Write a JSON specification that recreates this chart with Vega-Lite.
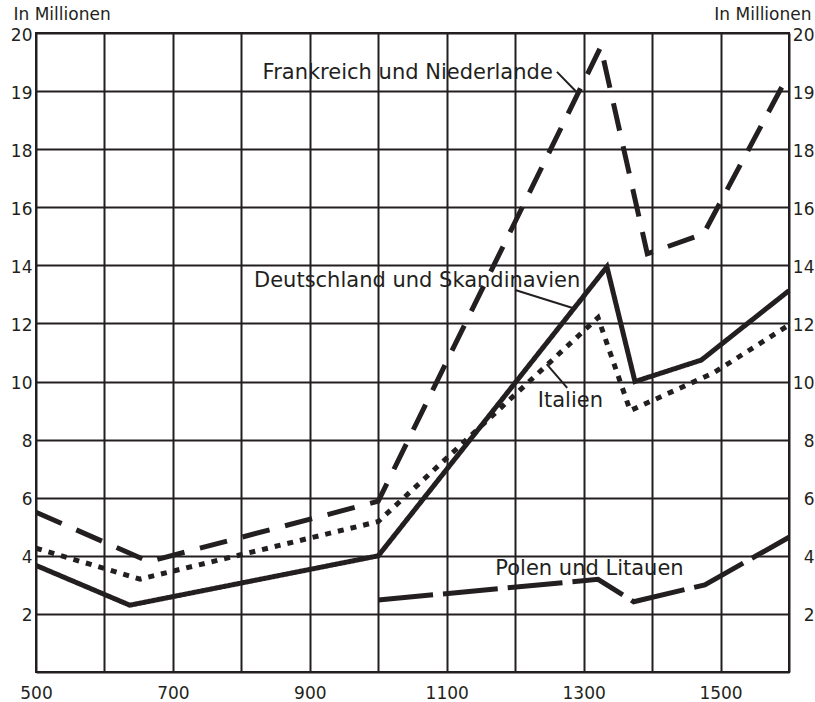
{
  "$schema": "https://vega.github.io/schema/vega-lite/v6.json",
  "autosize": {"type": "none"},
  "width": 753,
  "height": 639,
  "padding": {"left": 36, "top": 33, "right": 26, "bottom": 30},
  "background": "white",
  "config": {
    "view": {"stroke": "#231f20", "strokeWidth": 2},
    "font": "DejaVu Sans",
    "axis": {
      "labelFont": "DejaVu Sans",
      "titleFont": "DejaVu Sans",
      "labelColor": "#231f20",
      "titleColor": "#231f20",
      "gridColor": "#231f20",
      "gridOpacity": 1,
      "gridWidth": 2,
      "ticks": false,
      "tickSize": 0,
      "domain": false
    }
  },
  "datasets": {
    "series": [
      {"series": "Frankreich und Niederlande", "year": 500, "value": 5.5},
      {"series": "Frankreich und Niederlande", "year": 665, "value": 3.8},
      {"series": "Frankreich und Niederlande", "year": 1000, "value": 5.88},
      {"series": "Frankreich und Niederlande", "year": 1325, "value": 19.76},
      {"series": "Frankreich und Niederlande", "year": 1393, "value": 14.4},
      {"series": "Frankreich und Niederlande", "year": 1475, "value": 15.08},
      {"series": "Frankreich und Niederlande", "year": 1600, "value": 19.3},
      {"series": "Deutschland und Skandinavien", "year": 500, "value": 3.67},
      {"series": "Deutschland und Skandinavien", "year": 637, "value": 2.3},
      {"series": "Deutschland und Skandinavien", "year": 1000, "value": 4.0},
      {"series": "Deutschland und Skandinavien", "year": 1334, "value": 13.95},
      {"series": "Deutschland und Skandinavien", "year": 1375, "value": 10.0},
      {"series": "Deutschland und Skandinavien", "year": 1472, "value": 10.74},
      {"series": "Deutschland und Skandinavien", "year": 1600, "value": 13.13},
      {"series": "Italien", "year": 500, "value": 4.26},
      {"series": "Italien", "year": 652, "value": 3.2},
      {"series": "Italien", "year": 1000, "value": 5.18},
      {"series": "Italien", "year": 1321, "value": 12.2},
      {"series": "Italien", "year": 1368, "value": 9.0},
      {"series": "Italien", "year": 1490, "value": 10.3},
      {"series": "Italien", "year": 1600, "value": 11.95},
      {"series": "Polen und Litauen", "year": 1000, "value": 2.48},
      {"series": "Polen und Litauen", "year": 1321, "value": 3.19},
      {"series": "Polen und Litauen", "year": 1373, "value": 2.42},
      {"series": "Polen und Litauen", "year": 1477, "value": 3.0},
      {"series": "Polen und Litauen", "year": 1600, "value": 4.64}
    ],
    "labels": [
      {"text": "Frankreich und Niederlande", "year": 831, "value": 19.2, "side": "left"},
      {"text": "Deutschland und Skandinavien", "year": 1295, "value": 13.24, "side": "right"},
      {"text": "Italien", "year": 1233, "value": 9.13, "side": "left"},
      {"text": "Polen und Litauen", "year": 1171, "value": 3.34, "side": "left"}
    ],
    "leaders": [
      {"series": "Frankreich und Niederlande", "year": 1261, "value": 19.33, "year2": 1290, "value2": 18.98},
      {"series": "Deutschland und Skandinavien", "year": 1200, "value": 13.15, "year2": 1284, "value2": 12.53},
      {"series": "Italien", "year": 1246, "value": 10.6, "year2": 1276, "value2": 9.78}
    ]
  },
  "layer": [
    {
      "data": {"name": "series"},
      "mark": {"type": "line", "strokeWidth": 5, "color": "#231f20", "strokeJoin": "miter", "strokeCap": "butt"},
      "encoding": {
        "x": {
          "field": "year", "type": "quantitative",
          "scale": {"domain": [500, 1600], "nice": false, "zero": false},
          "axis": {
            "title": null,
            "values": [500, 600, 700, 800, 900, 1000, 1100, 1200, 1300, 1400, 1500, 1600],
            "format": "d",
            "labelExpr": "(datum.value - 500) % 200 == 0 && datum.value < 1600 ? datum.label : ''",
            "labelFontSize": 17,
            "labelBaseline": "alphabetic",
            "labelPadding": 26,
            "labelFlush": false,
            "grid": true
          }
        },
        "y": {
          "field": "value", "type": "quantitative",
          "scale": {"domain": [0, 16, 18, 20], "range": [639, 174.27, 116.18, 0], "nice": false, "zero": false},
          "axis": {
            "orient": "left",
            "title": "In Millionen",
            "titleAngle": 0,
            "titleAlign": "left",
            "titleBaseline": "alphabetic",
            "titleX": -23,
            "titleY": -14,
            "titleFontSize": 17,
            "titleFontWeight": "normal",
            "values": [0, 2, 4, 6, 8, 10, 12, 14, 16, 18, 19, 20],
            "labelExpr": "datum.value == 0 ? '' : datum.label",
            "labelFontSize": 17,
            "labelPadding": 4,
            "labelBaseline": "middle",
            "labelOffset": 2,
            "labelFlush": true,
            "grid": true
          }
        },
        "strokeDash": {
          "field": "series", "type": "nominal",
          "scale": {
            "domain": ["Frankreich und Niederlande", "Deutschland und Skandinavien", "Italien", "Polen und Litauen"],
            "range": [[28, 16], [1, 0], [6, 7], [55, 10]]
          },
          "legend": null
        }
      }
    },
    {
      "data": {"name": "leaders"},
      "mark": {"type": "rule", "strokeWidth": 2, "color": "#231f20"},
      "encoding": {
        "x": {"field": "year", "type": "quantitative"},
        "x2": {"field": "year2"},
        "y": {
          "field": "value", "type": "quantitative",
          "scale": {"domain": [0, 16, 18, 20], "range": [639, 174.27, 116.18, 0], "nice": false, "zero": false},
          "axis": null
        },
        "y2": {"field": "value2"}
      }
    },
    {
      "data": {"name": "labels"},
      "transform": [{"filter": "datum.side == 'left'"}],
      "mark": {"type": "text", "font": "DejaVu Sans", "fontSize": 21, "color": "#231f20", "baseline": "alphabetic", "align": "left"},
      "encoding": {
        "x": {"field": "year", "type": "quantitative"},
        "y": {
          "field": "value", "type": "quantitative",
          "scale": {"domain": [0, 16, 18, 20], "range": [639, 174.27, 116.18, 0], "nice": false, "zero": false},
          "axis": {
            "orient": "right",
            "title": "In Millionen",
            "titleAngle": 0,
            "titleAlign": "right",
            "titleBaseline": "alphabetic",
            "titleX": 22,
            "titleY": -14,
            "titleFontSize": 17,
            "titleFontWeight": "normal",
            "values": [2, 4, 6, 8, 10, 12, 14, 16, 18, 19, 20],
            "labelFontSize": 17,
            "labelAlign": "right",
            "labelPadding": 25,
            "labelBaseline": "middle",
            "labelOffset": 2,
            "labelFlush": true,
            "grid": false
          }
        },
        "text": {"field": "text"}
      }
    },
    {
      "data": {"name": "labels"},
      "transform": [{"filter": "datum.side == 'right'"}],
      "mark": {"type": "text", "font": "DejaVu Sans", "fontSize": 21, "color": "#231f20", "baseline": "alphabetic", "align": "right"},
      "encoding": {
        "x": {"field": "year", "type": "quantitative"},
        "y": {
          "field": "value", "type": "quantitative",
          "scale": {"domain": [0, 16, 18, 20], "range": [639, 174.27, 116.18, 0], "nice": false, "zero": false},
          "axis": null
        },
        "text": {"field": "text"}
      }
    }
  ],
  "resolve": {"scale": {"y": "independent"}, "axis": {"y": "independent"}}
}
